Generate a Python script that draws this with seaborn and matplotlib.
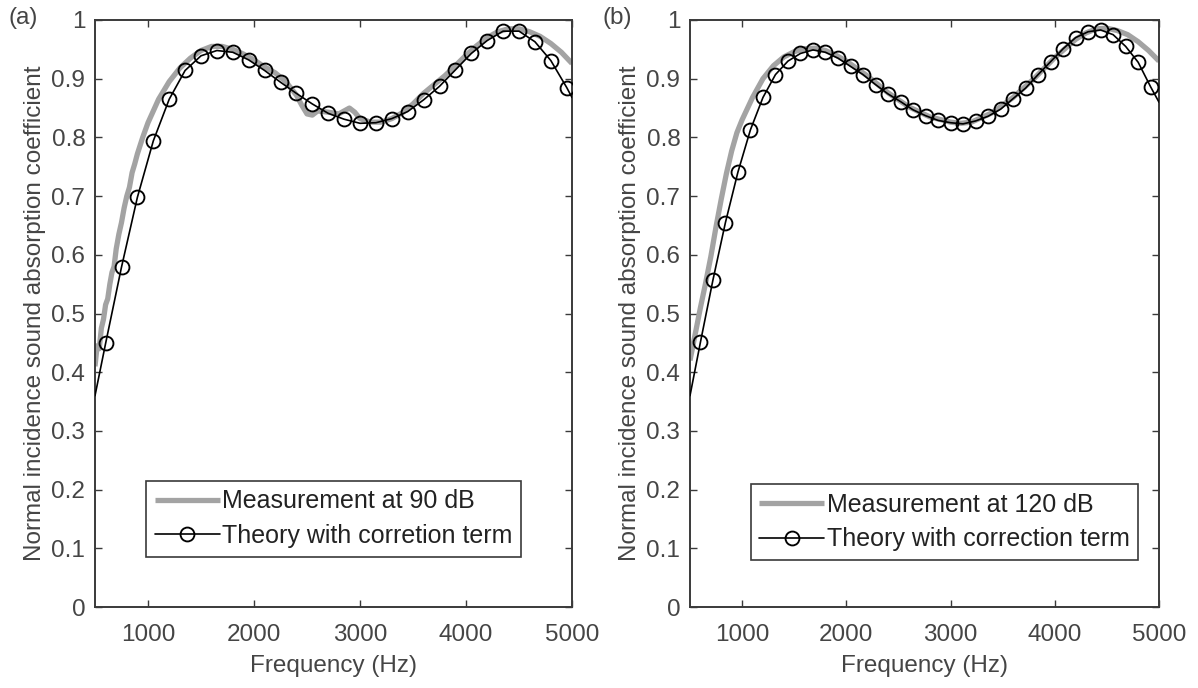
import numpy as np
import pandas as pd
import matplotlib
matplotlib.use("Agg")
import matplotlib.pyplot as plt
from matplotlib.lines import Line2D
import seaborn as sns

# ---------------- data ----------------
meas_a_freq = [500, 520, 540, 560, 580, 600, 620, 640, 660, 680, 700, 725, 750, 775, 800, 825, 850, 875, 900, 950,
               1000, 1050, 1100, 1150, 1200, 1300, 1400, 1500, 1600, 1700, 1800, 1900, 2000, 2100, 2200, 2300,
               2400, 2450, 2500, 2550, 2600, 2700, 2800, 2850, 2900, 2950, 3000, 3100, 3200, 3300, 3400, 3500,
               3600, 3700, 3800, 3900, 4000, 4100, 4200, 4300, 4400, 4500, 4600, 4700, 4800, 4900, 5000]
meas_a_val = [0.41, 0.445, 0.44, 0.475, 0.49, 0.515, 0.525, 0.55, 0.57, 0.58, 0.61, 0.635, 0.655, 0.68, 0.70,
              0.715, 0.74, 0.755, 0.772, 0.80, 0.825, 0.845, 0.865, 0.88, 0.895, 0.918, 0.935, 0.948, 0.955,
              0.955, 0.95, 0.942, 0.932, 0.92, 0.91, 0.895, 0.872, 0.855, 0.840, 0.838, 0.845, 0.843, 0.840,
              0.845, 0.850, 0.843, 0.832, 0.826, 0.826, 0.832, 0.842, 0.857, 0.875, 0.89, 0.905, 0.922, 0.94,
              0.956, 0.97, 0.98, 0.985, 0.985, 0.98, 0.972, 0.96, 0.945, 0.926]

theory_a_freq = [500, 600, 750, 900, 1050, 1200, 1350, 1500, 1650, 1800, 1950, 2100, 2250, 2400, 2550, 2700,
                 2850, 3000, 3150, 3300, 3450, 3600, 3750, 3900, 4050, 4200, 4350, 4500, 4650, 4800, 4950, 5000]
theory_a_val = [0.36, 0.449, 0.579, 0.698, 0.794, 0.865, 0.914, 0.939, 0.948, 0.945, 0.932, 0.914, 0.894,
                0.875, 0.857, 0.841, 0.831, 0.824, 0.825, 0.832, 0.844, 0.864, 0.887, 0.915, 0.943, 0.965,
                0.981, 0.981, 0.963, 0.931, 0.885, 0.868]

meas_b_freq = [500, 550, 600, 650, 700, 750, 800, 850, 900, 950, 1000, 1100, 1200, 1300, 1400, 1500, 1600,
               1700, 1800, 1900, 2000, 2200, 2400, 2600, 2800, 3000, 3100, 3200, 3400, 3600, 3800, 4000, 4200,
               4300, 4400, 4500, 4600, 4700, 4800, 4900, 5000]
meas_b_val = [0.42, 0.465, 0.51, 0.552, 0.597, 0.648, 0.695, 0.739, 0.777, 0.808, 0.83, 0.868, 0.9, 0.922,
              0.937, 0.946, 0.951, 0.952, 0.948, 0.94, 0.93, 0.905, 0.876, 0.852, 0.835, 0.826, 0.824, 0.826,
              0.842, 0.868, 0.9, 0.936, 0.967, 0.978, 0.985, 0.986, 0.982, 0.975, 0.963, 0.948, 0.93]

theory_b_freq = [500, 600, 720, 840, 960, 1080, 1200, 1320, 1440, 1560, 1680, 1800, 1920, 2040, 2160, 2280,
                 2400, 2520, 2640, 2760, 2880, 3000, 3120, 3240, 3360, 3480, 3600, 3720, 3840, 3960, 4080,
                 4200, 4320, 4440, 4560, 4680, 4800, 4920, 5000]
theory_b_val = [0.36, 0.451, 0.557, 0.655, 0.741, 0.813, 0.868, 0.907, 0.930, 0.943, 0.949, 0.945, 0.935,
                0.921, 0.907, 0.890, 0.874, 0.861, 0.847, 0.837, 0.829, 0.825, 0.823, 0.828, 0.836, 0.848,
                0.866, 0.884, 0.907, 0.929, 0.951, 0.970, 0.980, 0.983, 0.975, 0.955, 0.928, 0.886, 0.86]

panel_labels = ["(a)", "(b)"]
meas_labels = ["Measurement at 90 dB", "Measurement at 120 dB"]
theory_labels = ["Theory with corretion term", "Theory with correction term"]
x_ticks = [1000, 2000, 3000, 4000, 5000]
y_ticks = [0, 0.1, 0.2, 0.3, 0.4, 0.5, 0.6, 0.7, 0.8, 0.9, 1]
y_tick_labels = ["0", "0.1", "0.2", "0.3", "0.4", "0.5", "0.6", "0.7", "0.8", "0.9", "1"]
x_label = "Frequency (Hz)"
y_label = "Normal incidence sound absorption coefficient"

# ---------------- style ----------------
sns.set_style("white")
plt.rcParams["font.family"] = ["Liberation Sans", "DejaVu Sans"]
TXT = "#454545"
SPINE = "#3a3a3a"
GRAY = "#a3a3a3"
FS = 17.5
FS_LEG = 18

fig = plt.figure(figsize=(11.98, 6.88), dpi=100)
ax_a = fig.add_axes([95 / 1198, 81 / 688, 477 / 1198, 587 / 688])
ax_b = fig.add_axes([690 / 1198, 81 / 688, 469 / 1198, 587 / 688])

panels = [
    (ax_a, meas_a_freq, meas_a_val, theory_a_freq, theory_a_val, (0.1065, 0.0857), 95),
    (ax_b, meas_b_freq, meas_b_val, theory_b_freq, theory_b_val, (0.129, 0.080), 690),
]

for i, (ax, mf, mv, tf, tv, leg_pos, left_px) in enumerate(panels):
    dm = pd.DataFrame({"f": mf, "v": mv})
    dt = pd.DataFrame({"f": tf, "v": tv})
    sns.lineplot(data=dm, x="f", y="v", ax=ax, color=GRAY, linewidth=3.8, sort=True,
                 estimator=None, solid_capstyle="butt", zorder=2)
    sns.lineplot(data=dt, x="f", y="v", ax=ax, color="black", linewidth=1.2, sort=True,
                 estimator=None, marker="o", markersize=10, markerfacecolor="none",
                 markeredgecolor="black", markeredgewidth=1.35,
                 markevery=list(range(1, len(tf) - 1)), zorder=3)

    ax.set_xlim(500, 5000)
    ax.set_ylim(0, 1)
    ax.set_xticks(x_ticks)
    ax.set_xticklabels([str(t) for t in x_ticks])
    ax.set_yticks(y_ticks)
    ax.set_yticklabels(y_tick_labels)
    ax.tick_params(axis="both", which="both", direction="in", length=5, width=1.0,
                   colors=SPINE, labelcolor=TXT, labelsize=FS, top=True, right=True,
                   bottom=True, left=True)
    ax.tick_params(axis="x", pad=12)
    ax.tick_params(axis="y", pad=7)
    for s in ax.spines.values():
        s.set_visible(True)
        s.set_color(SPINE)
        s.set_linewidth(1.4)
    ax.set_xlabel(x_label, fontsize=FS, color=TXT, labelpad=7)
    ax.set_ylabel(y_label, fontsize=FS, color=TXT, labelpad=4)

    handles = [
        Line2D([], [], color=GRAY, linewidth=3.8, solid_capstyle="butt"),
        Line2D([], [], color="black", linewidth=1.2, marker="o", markersize=10,
               markerfacecolor="none", markeredgecolor="black", markeredgewidth=1.35),
    ]
    leg = ax.legend(handles, [meas_labels[i], theory_labels[i]], loc="lower left",
                    bbox_to_anchor=leg_pos, fontsize=FS_LEG, frameon=True, fancybox=False,
                    edgecolor=SPINE, framealpha=1, borderpad=0.35, handlelength=2.6,
                    handletextpad=0.1, labelspacing=0.42, borderaxespad=0)
    leg.get_frame().set_linewidth(1.2)
    for t in leg.get_texts():
        t.set_color("#222222")

    fig.text((left_px - 87) / 1198, 1 - 18 / 688, panel_labels[i], fontsize=FS, color=TXT,
             ha="left", va="center")

fig.savefig("out.png", dpi=100, facecolor="white")
